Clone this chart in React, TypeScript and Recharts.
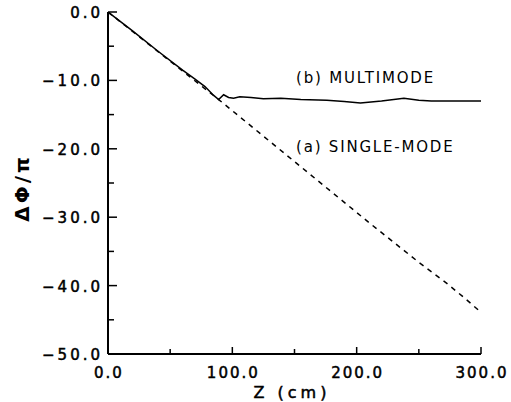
import React from "react";
import { ComposedChart, Line, XAxis, YAxis, Customized } from "recharts";

const singleZ = [0, 50, 89, 130, 167, 210, 250, 272, 286, 300];
const singleV = [0, -7.2, -12.8, -18.9, -24.4, -30.8, -36.6, -39.6, -41.7, -43.9];

const multiZ = [0, 20, 40, 60, 70, 78, 85, 89, 93, 97, 101, 106, 115, 125, 139, 155, 176, 190, 203, 220, 238, 250, 260, 280, 300];
const multiV = [0, -2.8, -5.7, -8.5, -9.8, -10.9, -12.2, -12.8, -12.1, -12.5, -12.6, -12.4, -12.5, -12.7, -12.6, -12.8, -12.9, -13.1, -13.3, -13.0, -12.6, -12.9, -13.0, -13.0, -13.0];

const xTicks = [0, 50, 100, 150, 200, 250, 300];
const yTicks = [0, -5, -10, -15, -20, -25, -30, -35, -40, -45, -50];

const singleData = singleZ.map((z, i) => ({ z, v: singleV[i] }));
const multiData = multiZ.map((z, i) => ({ z, v: multiV[i] }));

const FONT = "DejaVu Sans";

const fmt = (v: number) => (v < 0 ? "\u2212" + Math.abs(v).toFixed(1) : v.toFixed(1));

const BottomTick = (props: any) => {
  const { x, y, payload } = props;
  const major = payload.value % 100 === 0;
  return (
    <g>
      <line x1={x} y1={y} x2={x} y2={y - (major ? 7 : 5)} stroke="#000" strokeWidth={1.5} />
      {major && (
        <text x={x + 1} y={y + 24} textAnchor="middle" fontFamily={FONT} fontSize={15} letterSpacing={2} fill="#000" stroke="#000" strokeWidth={0.5}>
          {payload.value.toFixed(1)}
        </text>
      )}
    </g>
  );
};

const TopTick = (props: any) => {
  const { x, y, payload } = props;
  const major = payload.value % 100 === 0;
  return <line x1={x} y1={y} x2={x} y2={y + (major ? 7 : 4)} stroke="#000" strokeWidth={1.5} />;
};

const LeftTick = (props: any) => {
  const { x, y, payload } = props;
  const major = payload.value % 10 === 0;
  return (
    <g>
      <line x1={x} y1={y} x2={x + (major ? 9 : 6)} y2={y} stroke="#000" strokeWidth={1.5} />
      {major && (
        <text x={x - 5} y={y + 6} textAnchor="end" fontFamily={FONT} fontSize={15} letterSpacing={3} fill="#000" stroke="#000" strokeWidth={0.5}>
          {fmt(payload.value)}
        </text>
      )}
    </g>
  );
};

const RightTick = (props: any) => {
  const { x, y, payload } = props;
  const major = payload.value % 10 === 0;
  return <line x1={x} y1={y} x2={x - (major ? 9 : 5)} y2={y} stroke="#000" strokeWidth={1.5} />;
};

const Texts = () => (
  <g fontFamily={FONT} fill="#000">
    <text x={296} y={83} fontSize={15} letterSpacing={1.8}>(b) MULTIMODE</text>
    <text x={296} y={152} fontSize={15} letterSpacing={1.8}>(a) SINGLE-MODE</text>
    <text x={292} y={398} fontSize={16} letterSpacing={4} textAnchor="middle" stroke="#000" strokeWidth={0.5}>Z (cm)</text>
    <text x={0} y={0} fontSize={20} fontWeight="bold" letterSpacing={3} textAnchor="middle" transform="translate(29,188) rotate(-90)">ΔΦ/π</text>
  </g>
);

export default function App() {
  return (
    <div style={{ position: "absolute", left: 0, top: 0 }}>
      <ComposedChart width={511} height={402} margin={{ top: 12, right: 30, bottom: 0, left: 0 }}>
        <XAxis xAxisId="b" dataKey="z" type="number" domain={[0, 300]} ticks={xTicks} orientation="bottom" height={48}
          axisLine={{ stroke: "#000", strokeWidth: 2 }} tickLine={false} tickSize={0} tickMargin={0} tick={<BottomTick />} interval={0} allowDataOverflow />
        <XAxis xAxisId="t" dataKey="z" type="number" domain={[0, 300]} ticks={xTicks} orientation="top" height={0}
          axisLine={{ stroke: "#000", strokeWidth: 2 }} tickLine={false} tickSize={0} tickMargin={0} tick={<TopTick />} interval={0} allowDataOverflow />
        <YAxis yAxisId="l" type="number" domain={[-50, 0]} ticks={yTicks} orientation="left" width={108}
          axisLine={{ stroke: "#000", strokeWidth: 2 }} tickLine={false} tickSize={0} tickMargin={0} tick={<LeftTick />} interval={0} allowDataOverflow />
        <YAxis yAxisId="r" type="number" domain={[-50, 0]} ticks={yTicks} orientation="right" width={0}
          axisLine={{ stroke: "#000", strokeWidth: 2 }} tickLine={false} tickSize={0} tickMargin={0} tick={<RightTick />} interval={0} allowDataOverflow />
        <Line xAxisId="b" yAxisId="l" data={singleData} dataKey="v" type="linear" stroke="#000" strokeWidth={1.5}
          strokeDasharray="5 5" dot={false} isAnimationActive={false} />
        <Line xAxisId="b" yAxisId="l" data={multiData} dataKey="v" type="linear" stroke="#000" strokeWidth={1.5}
          dot={false} isAnimationActive={false} />
        <Customized component={Texts} />
      </ComposedChart>
    </div>
  );
}
